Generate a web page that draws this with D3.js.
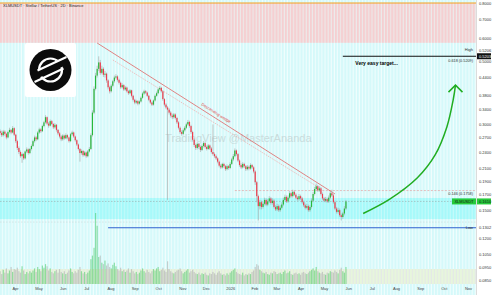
<!DOCTYPE html>
<html>
<head>
<meta charset="utf-8">
<script src="https://cdn.jsdelivr.net/npm/d3@7"></script>
<style>
  body { margin: 0; background: #fff; }
  svg { display: block; font-family: "Liberation Sans", Arial, sans-serif; }
</style>
</head>
<body>
<svg id="chart" width="500" height="295"></svg>
<script>
// XLMUSDT 2D candles, first candle on 13 Mar 2025
const startDate = new Date(2025, 2, 13);
const firstOpen = 0.284;

const closes = [
  0.280, 0.275, 0.283, 0.278, 0.270, 0.282, 0.287, 0.281, 0.291, 0.276,
  0.262, 0.248, 0.240, 0.232, 0.236, 0.228, 0.241, 0.245, 0.238, 0.246,
  0.252, 0.262, 0.270, 0.266, 0.281, 0.288, 0.284, 0.296, 0.305, 0.318,
  0.302, 0.297, 0.308, 0.301, 0.293, 0.299, 0.287, 0.279, 0.272, 0.266,
  0.274, 0.268, 0.275, 0.270, 0.262, 0.277, 0.281, 0.272, 0.264, 0.255,
  0.246, 0.238, 0.242, 0.234, 0.239, 0.232, 0.241, 0.246, 0.275, 0.330,
  0.400, 0.445, 0.470, 0.495, 0.455, 0.470, 0.448, 0.452, 0.428, 0.405,
  0.392, 0.410, 0.425, 0.438, 0.442, 0.430, 0.420, 0.405, 0.412, 0.398,
  0.404, 0.392, 0.386, 0.395, 0.378, 0.366, 0.358, 0.362, 0.355, 0.361,
  0.372, 0.385, 0.392, 0.388, 0.378, 0.366, 0.358, 0.352, 0.364, 0.378,
  0.386, 0.398, 0.403, 0.392, 0.368, 0.352, 0.344, 0.338, 0.330, 0.322,
  0.318, 0.325, 0.316, 0.305, 0.292, 0.282, 0.278, 0.286, 0.292, 0.300,
  0.306, 0.296, 0.282, 0.265, 0.254, 0.248, 0.256, 0.250, 0.244, 0.252,
  0.258, 0.250, 0.246, 0.253, 0.247, 0.240, 0.236, 0.232, 0.228, 0.222,
  0.215, 0.212, 0.218, 0.214, 0.209, 0.214, 0.211, 0.218, 0.226, 0.232,
  0.243, 0.236, 0.224, 0.216, 0.212, 0.218, 0.214, 0.209, 0.213, 0.210,
  0.216, 0.212, 0.205, 0.188, 0.168, 0.155, 0.160, 0.154, 0.158, 0.163,
  0.157, 0.161, 0.165, 0.159, 0.162, 0.154, 0.151, 0.155, 0.150, 0.153,
  0.157, 0.163, 0.167, 0.161, 0.166, 0.172, 0.168, 0.174, 0.170, 0.166,
  0.164, 0.168, 0.165, 0.160, 0.156, 0.153, 0.155, 0.150, 0.154, 0.162,
  0.171, 0.178, 0.182, 0.176, 0.179, 0.171, 0.165, 0.162, 0.164, 0.161,
  0.166, 0.172, 0.169, 0.160, 0.152, 0.148, 0.150, 0.144, 0.142, 0.146,
  0.152, 0.161
];

const highs = [
  0.288, 0.285, 0.287, 0.286, 0.280, 0.285, 0.292, 0.289, 0.296, 0.293,
  0.278, 0.265, 0.251, 0.243, 0.239, 0.238, 0.243, 0.249, 0.247, 0.248,
  0.255, 0.265, 0.274, 0.273, 0.284, 0.292, 0.291, 0.299, 0.309, 0.323,
  0.320, 0.306, 0.312, 0.311, 0.303, 0.303, 0.301, 0.289, 0.282, 0.275,
  0.277, 0.276, 0.279, 0.277, 0.272, 0.280, 0.285, 0.283, 0.274, 0.266,
  0.257, 0.248, 0.245, 0.244, 0.242, 0.241, 0.244, 0.250, 0.279, 0.336,
  0.408, 0.455, 0.482, 0.520, 0.505, 0.482, 0.476, 0.462, 0.456, 0.432,
  0.410, 0.415, 0.430, 0.445, 0.450, 0.446, 0.434, 0.424, 0.418, 0.415,
  0.409, 0.407, 0.396, 0.399, 0.397, 0.381, 0.369, 0.366, 0.365, 0.364,
  0.376, 0.389, 0.397, 0.396, 0.391, 0.381, 0.369, 0.361, 0.367, 0.382,
  0.391, 0.402, 0.409, 0.406, 0.395, 0.371, 0.356, 0.348, 0.342, 0.334,
  0.327, 0.329, 0.328, 0.319, 0.308, 0.295, 0.286, 0.290, 0.296, 0.304,
  0.311, 0.309, 0.299, 0.285, 0.268, 0.257, 0.259, 0.258, 0.253, 0.255,
  0.262, 0.260, 0.253, 0.256, 0.255, 0.250, 0.300, 0.239, 0.235, 0.230,
  0.224, 0.218, 0.220, 0.220, 0.216, 0.217, 0.216, 0.221, 0.229, 0.236,
  0.247, 0.245, 0.238, 0.226, 0.219, 0.221, 0.220, 0.216, 0.216, 0.215,
  0.219, 0.218, 0.214, 0.207, 0.190, 0.170, 0.163, 0.162, 0.161, 0.166,
  0.165, 0.164, 0.168, 0.167, 0.165, 0.164, 0.156, 0.158, 0.157, 0.156,
  0.160, 0.166, 0.170, 0.169, 0.169, 0.175, 0.174, 0.177, 0.176, 0.172,
  0.168, 0.171, 0.170, 0.167, 0.162, 0.158, 0.158, 0.157, 0.156, 0.165,
  0.174, 0.181, 0.186, 0.184, 0.182, 0.181, 0.173, 0.167, 0.167, 0.166,
  0.169, 0.175, 0.177, 0.171, 0.162, 0.154, 0.153, 0.152, 0.146, 0.148,
  0.155, 0.163
];

const lows = [
  0.276, 0.271, 0.272, 0.274, 0.266, 0.268, 0.279, 0.277, 0.279, 0.273,
  0.258, 0.244, 0.236, 0.229, 0.220, 0.225, 0.226, 0.238, 0.235, 0.236,
  0.243, 0.250, 0.259, 0.262, 0.264, 0.278, 0.280, 0.282, 0.293, 0.302,
  0.298, 0.292, 0.295, 0.298, 0.289, 0.290, 0.283, 0.275, 0.268, 0.262,
  0.263, 0.265, 0.266, 0.266, 0.259, 0.260, 0.274, 0.269, 0.261, 0.252,
  0.243, 0.222, 0.235, 0.231, 0.232, 0.229, 0.230, 0.239, 0.244, 0.272,
  0.326, 0.395, 0.438, 0.462, 0.448, 0.450, 0.440, 0.438, 0.420, 0.398,
  0.385, 0.388, 0.405, 0.420, 0.432, 0.424, 0.414, 0.400, 0.401, 0.393,
  0.394, 0.388, 0.381, 0.383, 0.373, 0.361, 0.353, 0.354, 0.350, 0.352,
  0.358, 0.369, 0.381, 0.384, 0.374, 0.362, 0.354, 0.348, 0.349, 0.361,
  0.375, 0.383, 0.394, 0.388, 0.363, 0.347, 0.339, 0.163, 0.325, 0.317,
  0.313, 0.314, 0.312, 0.301, 0.288, 0.278, 0.274, 0.275, 0.283, 0.289,
  0.297, 0.292, 0.278, 0.261, 0.250, 0.244, 0.245, 0.246, 0.240, 0.242,
  0.249, 0.247, 0.243, 0.244, 0.244, 0.237, 0.233, 0.229, 0.225, 0.219,
  0.212, 0.209, 0.210, 0.211, 0.206, 0.207, 0.208, 0.209, 0.216, 0.223,
  0.230, 0.233, 0.221, 0.213, 0.209, 0.210, 0.211, 0.206, 0.207, 0.207,
  0.208, 0.209, 0.202, 0.184, 0.160, 0.138, 0.151, 0.151, 0.152, 0.156,
  0.155, 0.155, 0.159, 0.157, 0.157, 0.152, 0.149, 0.149, 0.148, 0.148,
  0.151, 0.155, 0.161, 0.159, 0.159, 0.164, 0.166, 0.166, 0.168, 0.164,
  0.162, 0.162, 0.163, 0.158, 0.154, 0.151, 0.151, 0.148, 0.148, 0.152,
  0.160, 0.169, 0.176, 0.174, 0.174, 0.169, 0.163, 0.160, 0.160, 0.159,
  0.159, 0.164, 0.167, 0.158, 0.150, 0.146, 0.146, 0.142, 0.138, 0.140,
  0.144, 0.150
];

// relative volume, 100 = the July spike
const volumes = [
  18, 14, 20, 16, 22, 15, 19, 24, 17, 21,
  20, 23, 18, 16, 25, 19, 14, 17, 15, 18,
  16, 19, 22, 17, 24, 21, 18, 26, 23, 28,
  25, 19, 22, 17, 15, 18, 20, 16, 21, 17,
  15, 18, 14, 16, 19, 22, 17, 15, 18, 16,
  20, 24, 18, 15, 17, 14, 16, 19, 35, 40,
  51, 100, 82, 38, 40, 30, 28, 33, 26, 29,
  24, 22, 27, 30, 25, 21, 19, 23, 18, 20,
  17, 19, 22, 16, 21, 18, 15, 17, 14, 16,
  19, 22, 18, 16, 20, 17, 15, 18, 21, 19,
  22, 24, 18, 20, 23, 19, 17, 32, 21, 18,
  16, 15, 17, 19, 20, 22, 18, 15, 17, 19,
  21, 16, 18, 20, 17, 15, 14, 16, 13, 15,
  14, 16, 13, 12, 15, 14, 17, 15, 13, 16,
  18, 15, 13, 14, 12, 15, 13, 16, 18, 20,
  22, 17, 15, 14, 13, 16, 12, 14, 13, 15,
  14, 17, 19, 24, 28, 26, 20, 18, 16, 15,
  17, 14, 13, 16, 15, 18, 17, 14, 15, 16,
  14, 17, 19, 15, 16, 18, 14, 13, 15, 16,
  14, 15, 13, 16, 17, 15, 14, 16, 18, 20,
  22, 19, 24, 18, 16, 15, 17, 14, 13, 16,
  15, 18, 17, 16, 19, 17, 15, 20, 23, 18,
  16, 24
];

const priceTicks = [0.8, 0.7, 0.6, 0.5, 0.44, 0.38, 0.34, 0.30, 0.27, 0.24,
  0.21, 0.19, 0.17, 0.15, 0.12, 0.105, 0.095, 0.085];

const highPrice = 0.5206;
const lowPrice = 0.1302;
const targetLine = 0.5203;
const fibTop = 0.5209;
const fibLow = 0.1758;
const lastPrice = 0.1610;
const zone = [0.1396, 0.1656];

// drawings: [date, price]
const wedgeUpper = [[new Date(2025, 6, 15), 0.579], [new Date(2026, 4, 15), 0.171]];
const wedgeLower = [[new Date(2025, 7, 4), 0.505], [new Date(2026, 3, 26), 0.179]];
const arrowPath = [
  [new Date(2026, 5, 20), 0.146], [new Date(2026, 6, 24), 0.164],
  [new Date(2026, 7, 28), 0.1945], [new Date(2026, 8, 20), 0.2345],
  [new Date(2026, 9, 5), 0.294], [new Date(2026, 9, 13), 0.365],
  [new Date(2026, 9, 16), 0.412]
];

const svg = d3.select('#chart');
const plotRight = 476;

const x = d3.scaleTime()
  .domain([new Date(2025, 3, 1), new Date(2026, 10, 1)])
  .range([15, 468]);
const y = d3.scaleLog().domain([0.08, 0.8]).range([288, 3]);
const yVol = d3.scaleLinear().domain([0, 100]).range([284, 213]);

const candles = closes.map((c, i) => ({
  date: d3.timeDay.offset(startDate, i * 2),
  open: i ? closes[i - 1] : firstOpen,
  high: highs[i],
  low: lows[i],
  close: c,
  volume: volumes[i],
}));

// striped backgrounds
const defs = svg.append('defs');
const stripes = (id, base, line) => {
  const p = defs.append('pattern').attr('id', id)
    .attr('patternUnits', 'userSpaceOnUse').attr('width', 3.13).attr('height', 10);
  p.append('rect').attr('width', 3.13).attr('height', 10).attr('fill', base);
  p.append('rect').attr('x', 2.1).attr('width', 1).attr('height', 10).attr('fill', line);
};
stripes('bgCyan', '#d5f9fa', '#f3fefe');
stripes('bgPink', '#f5cfd1', '#ececec');
stripes('bgZone', '#a6f9fa', '#c6fbfb');
stripes('bgVol', '#e7f6dc', '#e4e8e8');

svg.append('rect').attr('width', plotRight).attr('height', 295).attr('fill', 'url(#bgCyan)');
svg.append('rect').attr('y', y(0.8)).attr('width', plotRight).attr('height', y(0.58) - y(0.8))
  .attr('fill', 'url(#bgPink)');
svg.append('rect').attr('y', 269).attr('width', plotRight).attr('height', 15).attr('fill', 'url(#bgVol)');
svg.append('rect').attr('y', y(zone[1])).attr('width', plotRight).attr('height', y(zone[0]) - y(zone[1]))
  .attr('fill', 'url(#bgZone)');
svg.append('rect').attr('x', plotRight).attr('width', 500 - plotRight).attr('height', 295).attr('fill', '#fff');

// watermark
svg.append('text').attr('x', x(new Date(2025, 9, 10))).attr('y', y(0.26))
  .attr('font-size', 11).attr('fill', '#b8c4c4').attr('opacity', 0.55)
  .text('TradingView @MasterAnanda');

// top orange line + title
svg.append('line').attr('x1', 0).attr('x2', plotRight).attr('y1', y(0.8)).attr('y2', y(0.8))
  .attr('stroke', '#f4a11d').attr('stroke-width', 1);
svg.append('text').attr('x', 3).attr('y', 7).attr('font-size', 4).attr('fill', '#222')
  .text('XLMUSDT · Stellar / TetherUS · 2D · Binance');

// price line and helper dashes
svg.append('line').attr('x1', 0).attr('x2', plotRight).attr('y1', y(lastPrice)).attr('y2', y(lastPrice))
  .attr('stroke', '#9aa').attr('stroke-width', 0.6).attr('stroke-dasharray', '1.5,1.5');
svg.append('line').attr('x1', 0).attr('x2', plotRight).attr('y1', y(zone[0]) + 3).attr('y2', y(zone[0]) + 3)
  .attr('stroke', '#c8d0d0').attr('stroke-width', 0.5).attr('stroke-dasharray', '1.5,1.5');
svg.append('line').attr('x1', x(new Date(2026, 0, 7))).attr('x2', plotRight)
  .attr('y1', y(fibLow)).attr('y2', y(fibLow))
  .attr('stroke', '#e2a4a4').attr('stroke-width', 0.7).attr('stroke-dasharray', '2,1.5');

// wedge lines
const pt = d3.line().x((d) => x(d[0])).y((d) => y(d[1]));
svg.append('path').attr('d', pt(wedgeUpper)).attr('fill', 'none')
  .attr('stroke', '#e06565').attr('stroke-width', 0.8);
svg.append('path').attr('d', pt(wedgeLower)).attr('fill', 'none')
  .attr('stroke', '#f0a8a8').attr('stroke-width', 0.7).attr('stroke-dasharray', '1.5,1');
const labelAt = [new Date(2025, 11, 13), 0.326];
svg.append('text')
  .attr('transform', `translate(${x(labelAt[0])},${y(labelAt[1])}) rotate(32.5)`)
  .attr('text-anchor', 'middle').attr('font-size', 4).attr('fill', '#e04a4a')
  .text('Descending wedge');

// volumes
svg.append('g').selectAll('rect').data(candles).join('rect')
  .attr('x', (d) => x(d.date) - 0.6)
  .attr('width', 1.2)
  .attr('y', (d) => yVol(d.volume))
  .attr('height', (d) => yVol(0) - yVol(d.volume))
  .attr('fill', (d) => (d.close >= d.open ? 'rgba(40,190,70,0.45)' : 'rgba(170,170,170,0.55)'));

// candles
const cg = svg.append('g');
cg.selectAll('line').data(candles).join('line')
  .attr('x1', (d) => x(d.date)).attr('x2', (d) => x(d.date))
  .attr('y1', (d) => y(d.high)).attr('y2', (d) => y(d.low))
  .attr('stroke', '#a2a2a2').attr('stroke-width', 0.6);
cg.selectAll('rect').data(candles).join('rect')
  .attr('x', (d) => x(d.date) - 0.6)
  .attr('width', 1.2)
  .attr('y', (d) => y(Math.max(d.open, d.close)))
  .attr('height', (d) => Math.max(0.6, Math.abs(y(d.open) - y(d.close))))
  .attr('fill', (d) => (d.close >= d.open ? '#27b83b' : '#ee3b4c'));

// low line
svg.append('line').attr('x1', x(new Date(2025, 6, 29))).attr('x2', plotRight)
  .attr('y1', y(lowPrice)).attr('y2', y(lowPrice))
  .attr('stroke', '#2f60cf').attr('stroke-width', 1.1);
svg.append('text').attr('x', 473).attr('y', y(lowPrice) + 1.4).attr('text-anchor', 'end')
  .attr('font-size', 4).attr('fill', '#333').text('Low');

// target line
svg.append('line').attr('x1', x(new Date(2026, 4, 25))).attr('x2', plotRight)
  .attr('y1', y(targetLine)).attr('y2', y(targetLine))
  .attr('stroke', '#111').attr('stroke-width', 1.1);
svg.append('text').attr('x', 473).attr('y', y(highPrice) - 5).attr('text-anchor', 'end')
  .attr('font-size', 4).attr('fill', '#333').text('High');
svg.append('text').attr('x', 473).attr('y', y(targetLine) + 6).attr('text-anchor', 'end')
  .attr('font-size', 3.8).attr('fill', '#333').text(`0.618 (${fibTop.toFixed(4)})`);
svg.append('text').attr('x', 473).attr('y', y(fibLow) + 4).attr('text-anchor', 'end')
  .attr('font-size', 3.8).attr('fill', '#333').text(`0.146 (${fibLow.toFixed(4)})`);
svg.append('text').attr('x', x(new Date(2026, 5, 10))).attr('y', y(targetLine) + 9)
  .attr('font-size', 5).attr('font-weight', 'bold').attr('fill', '#000')
  .text('Very easy target...');

// green arrow
const curve = d3.line().x((d) => x(d[0])).y((d) => y(d[1])).curve(d3.curveCatmullRom);
svg.append('path').attr('d', curve(arrowPath)).attr('fill', 'none')
  .attr('stroke', '#21ad21').attr('stroke-width', 1.5);
const tip = arrowPath[arrowPath.length - 1];
svg.append('path')
  .attr('d', `M${x(tip[0]) - 7},${y(tip[1]) + 7}L${x(tip[0])},${y(tip[1])}L${x(tip[0]) + 7},${y(tip[1]) + 7}`)
  .attr('fill', 'none').attr('stroke', '#21ad21').attr('stroke-width', 1.5);

// logo
const logo = svg.append('g').attr('transform', 'translate(50.5,70)');
logo.append('rect').attr('x', -25.5).attr('y', -27).attr('width', 51).attr('height', 54)
  .attr('rx', 2).attr('fill', '#fff');
logo.append('circle').attr('r', 21).attr('fill', '#0b0b0b');
logo.append('circle').attr('r', 11.5).attr('fill', 'none').attr('stroke', '#fff').attr('stroke-width', 2.2);
logo.append('line').attr('x1', -17).attr('y1', 6).attr('x2', 17).attr('y2', -10)
  .attr('stroke', '#0b0b0b').attr('stroke-width', 8);
logo.append('line').attr('x1', -13).attr('y1', 0.5).attr('x2', 16).attr('y2', -13)
  .attr('stroke', '#fff').attr('stroke-width', 2.2);
logo.append('line').attr('x1', -16).attr('y1', 12).attr('x2', 13).attr('y2', -1.5)
  .attr('stroke', '#fff').attr('stroke-width', 2.2);

// axes
svg.append('line').attr('x1', plotRight + 0.5).attr('x2', plotRight + 0.5).attr('y1', 0).attr('y2', 295)
  .attr('stroke', '#c4c4c4').attr('stroke-width', 0.6);

const yAxis = svg.append('g').attr('transform', `translate(${plotRight},0)`)
  .call(d3.axisRight(y).tickValues(priceTicks).tickSize(0).tickPadding(3)
    .tickFormat(d3.format('.4f')));
yAxis.select('.domain').remove();
yAxis.selectAll('text').attr('font-size', 4).attr('fill', '#333');

const months = d3.timeMonth.range(new Date(2025, 3, 1), new Date(2026, 11, 1));
const xAxis = svg.append('g').attr('transform', 'translate(0,286)')
  .call(d3.axisBottom(x).tickValues(months).tickSize(0).tickPadding(1)
    .tickFormat((d) => (d.getMonth() === 0 ? d3.timeFormat('%Y')(d) : d3.timeFormat('%b')(d))));
xAxis.select('.domain').remove();
xAxis.selectAll('text').attr('font-size', 4).attr('fill', '#444');

// axis labels for marks
const axisBox = (price, fill, color, label, dy = 0) => {
  svg.append('rect').attr('x', plotRight + 1).attr('y', y(price) - 3 + dy).attr('width', 14).attr('height', 6)
    .attr('fill', fill);
  svg.append('text').attr('x', plotRight + 3).attr('y', y(price) + 1.4 + dy)
    .attr('font-size', 4).attr('fill', color).text(label);
};
axisBox(highPrice, '#fff', '#333', highPrice.toFixed(4), -6);
axisBox(targetLine, '#111', '#fff', targetLine.toFixed(4));
axisBox(lowPrice, '#fff', '#333', lowPrice.toFixed(4));
axisBox(lastPrice, '#25c93a', '#111', lastPrice.toFixed(4));
svg.append('rect').attr('x', plotRight - 24).attr('y', y(lastPrice) - 3).attr('width', 24).attr('height', 6)
  .attr('fill', '#25c93a');
svg.append('text').attr('x', plotRight - 12).attr('y', y(lastPrice) + 1.4).attr('text-anchor', 'middle')
  .attr('font-size', 4).attr('fill', '#111').text('XLMUSDT');
</script>
</body>
</html>
